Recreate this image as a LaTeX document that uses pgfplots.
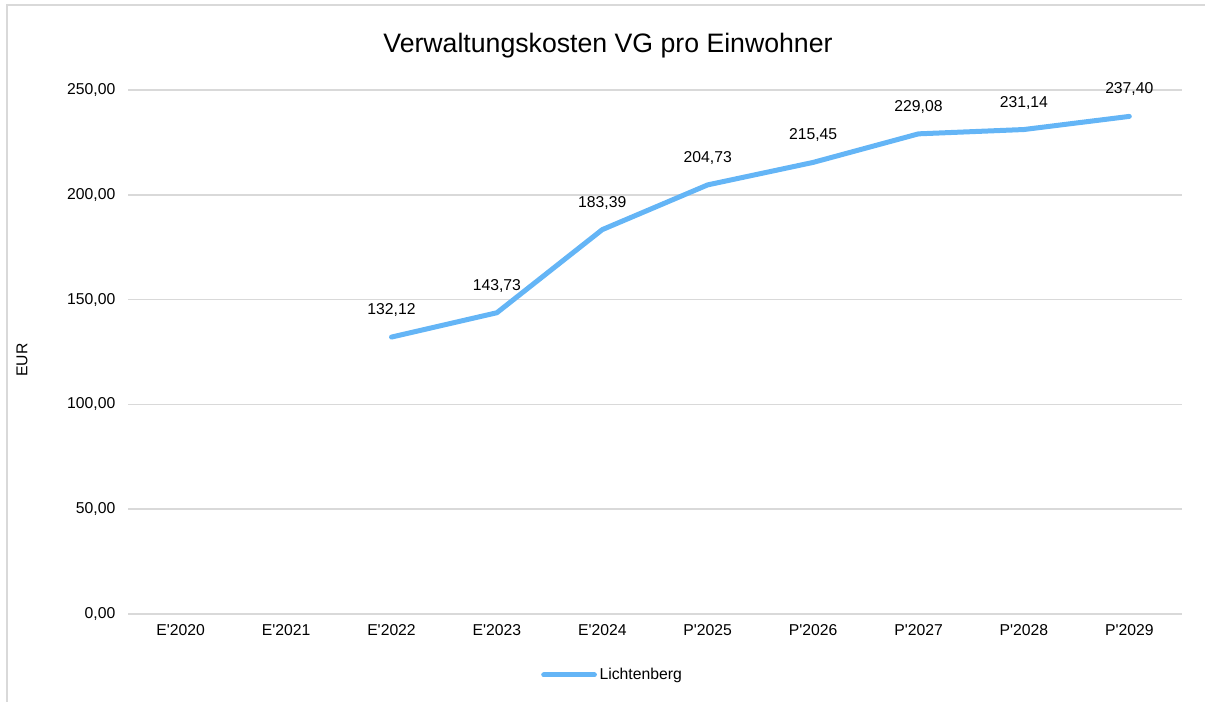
\documentclass[border=0pt]{standalone}
\usepackage{fontspec}
\setmainfont{Liberation Sans}[Ligatures=TeXOff]
\usepackage{pgfplots}
\pgfplotsset{compat=1.18}
\definecolor{serie}{HTML}{64B5F6}
\definecolor{gitter}{HTML}{D9D9D9}
\newcommand{\lbl}{\fontsize{11.8}{14}\selectfont}
\begin{document}
\begin{tikzpicture}
\begin{axis}[at={(0,0)}, anchor=south west, scale only axis,
    width=790.5pt, height=393pt,
    xmin=-0.5, xmax=9.5, ymin=0, ymax=250,
    xtick={0,...,9},
    xticklabels={E'2020,E'2021,E'2022,E'2023,E'2024,P'2025,P'2026,P'2027,P'2028,P'2029},
    ytick={0,50,...,250},
    axis line style={draw=none}, major tick length=0pt,
    ymajorgrids, grid style={gitter, line width=1.2pt},
    tick label style={font=\lbl},
    xticklabel style={yshift=-4pt},
    yticklabel style={xshift=-6pt, /pgf/number format/.cd, fixed, fixed zerofill, precision=2, use comma, 1000 sep={}},
    /pgf/number format/assume math mode=true,
    legend style={at={(0.46,-0.1164)}, anchor=center, draw=none, fill=none, font=\lbl},
    legend image code/.code={\draw[#1, line cap=round] (0pt,0pt) -- (38pt,0pt);},
    nodes near coords, nodes near coords style={font=\lbl, anchor=center, yshift=20.25pt, text=black,
      /pgf/number format/.cd, fixed, fixed zerofill, precision=2, use comma, 1000 sep={}},
]
\addplot[serie, line width=3.75pt, line cap=round, line join=round, mark=none]
  coordinates {(2,132.12) (3,143.73) (4,183.39) (5,204.73) (6,215.45) (7,229.08) (8,231.14) (9,237.40)};
\addlegendentry{Lichtenberg}
\end{axis}
\node[font=\fontsize{20}{24}\selectfont] at (360pt,426pt) {Verwaltungskosten VG pro Einwohner};
\node[font=\lbl, rotate=90] at (-79.5pt,190.5pt) {EUR};
\draw[gitter, line width=1.5pt] (-91.1pt,-80pt) -- (-91.1pt,456.4pt) -- (820pt,456.4pt);
\pgfresetboundingbox
\useasboundingbox (-96pt,-66pt) rectangle (807.75pt,460.5pt);
\end{tikzpicture}
\end{document}
